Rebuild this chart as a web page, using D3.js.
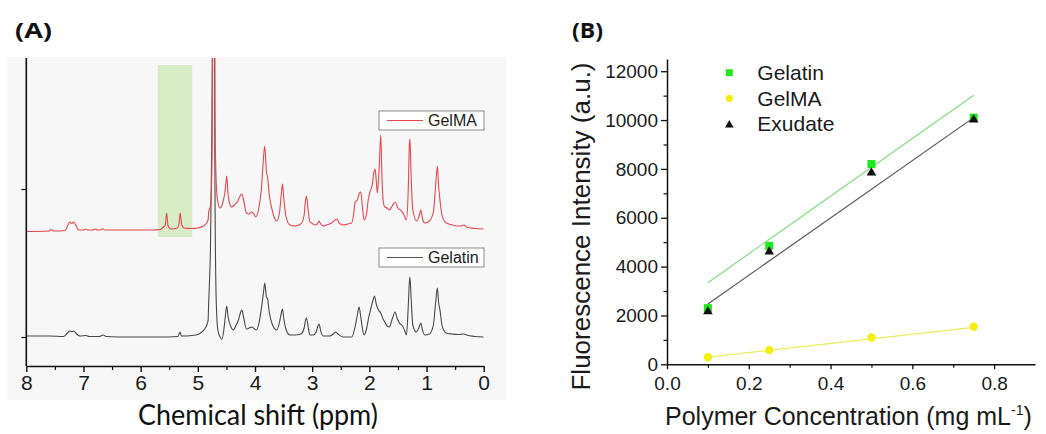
<!DOCTYPE html>
<html>
<head>
<meta charset="utf-8">
<script src="https://cdn.jsdelivr.net/npm/d3@7"></script>
<style>
    html, body { margin: 0; padding: 0; background: #fff; }
    svg { display: block; }
    .axis path, .axis line { stroke: #111; }
    .axis text { fill: #1a1a1a; font-family: Arial, "Liberation Sans", sans-serif; }
</style>
</head>
<body>
<svg id="chart" width="1046" height="434"></svg>
<script>
    // ---- panel A : 1H NMR spectra ----
    var ppmTicks = [8, 7, 6, 5, 4, 3, 2, 1, 0];
    var ppmMinorTicks = [7.5, 6.5, 5.5, 4.5, 3.5, 2.5, 1.5, 0.5];
    var highlightBand = [5.7, 5.1];
    var spectrumTicks = [0, 148];
    var gelmaOffset = 107;
    var spectrumNames = ['GelMA', 'Gelatin'];

    // [ppm, intensity above own baseline]
    var gelmaSpectrum = [
        [8.0, -1.5], [7.6, -1], [7.56, 0.5], [7.52, -1], [7.32, -0.5], [7.27, 5], [7.24, 8], [7.21, 6.5],
        [7.17, 8], [7.13, 4], [7.08, 0], [7.0, 0], [6.96, 1], [6.92, 0], [6.84, 0], [6.8, 1], [6.75, 0],
        [6.7, 0], [6.67, 1.2], [6.62, 0], [6.2, 0], [5.8, 0], [5.65, 0.5], [5.6, 3], [5.57, 5], [5.545, 17],
        [5.52, 4], [5.47, 1], [5.36, 2], [5.33, 6], [5.31, 17], [5.28, 5], [5.24, 2], [5.1, 1.5], [5.0, 2],
        [4.92, 3.5], [4.86, 6], [4.82, 10], [4.81, 18], [4.8, 20], [4.78, 24], [4.76, 45], [4.745, 120],
        [4.73, 400], [4.715, 400], [4.7, 120], [4.68, 50], [4.65, 28], [4.61, 22], [4.56, 28], [4.52, 40],
        [4.495, 54], [4.47, 35], [4.44, 26], [4.41, 23], [4.36, 25], [4.3, 29], [4.26, 34], [4.23, 36],
        [4.2, 30], [4.15, 17], [4.1, 16], [4.06, 18], [4.02, 16], [3.99, 13], [3.94, 20], [3.89, 40],
        [3.86, 65], [3.83, 84], [3.8, 58], [3.78, 53], [3.75, 35], [3.7, 20], [3.66, 12], [3.62, 9],
        [3.57, 18], [3.54, 36], [3.52, 46], [3.5, 34], [3.46, 14], [3.39, 5], [3.3, 4], [3.2, 6],
        [3.14, 15], [3.12, 28], [3.1, 34], [3.07, 20], [3.04, 8], [3.01, 7], [2.95, 5], [2.91, 6],
        [2.88, 9], [2.85, 6], [2.81, 4], [2.75, 5], [2.7, 6], [2.66, 7], [2.62, 9], [2.57, 11], [2.53, 7],
        [2.46, 5], [2.38, 6], [2.31, 7], [2.27, 18], [2.25, 28], [2.21, 30], [2.18, 36], [2.15, 38],
        [2.12, 22], [2.09, 10], [2.05, 16], [2.02, 30], [1.99, 38], [1.95, 45], [1.92, 58], [1.9, 61],
        [1.88, 50], [1.86, 37], [1.83, 60], [1.8, 95], [1.78, 55], [1.76, 30], [1.73, 23], [1.69, 22],
        [1.65, 20], [1.6, 24], [1.55, 28], [1.5, 22], [1.46, 20], [1.41, 17], [1.35, 10], [1.32, 40],
        [1.3, 85], [1.29, 91], [1.27, 55], [1.24, 20], [1.17, 9], [1.13, 14], [1.1, 20], [1.07, 11],
        [1.03, 7], [0.95, 9], [0.88, 18], [0.84, 45], [0.81, 64], [0.79, 45], [0.765, 30], [0.73, 15],
        [0.68, 8], [0.65, 7], [0.55, 5], [0.47, 4], [0.4, 4], [0.345, 5], [0.3, 3], [0.15, 1.5], [0.0, 1]
    ];
    var gelatinSpectrum = [
        [8.0, 1], [7.6, 1], [7.35, 0.5], [7.28, 4], [7.24, 6], [7.2, 5.5], [7.17, 6], [7.12, 3], [7.06, 1],
        [6.96, 1.5], [6.9, 0.5], [6.72, 0.5], [6.66, 2], [6.6, 0.5], [6.2, 0], [5.7, 0], [5.35, 0.5],
        [5.31, 5], [5.29, 1], [5.1, 1.5], [5.0, 2.5], [4.93, 5], [4.88, 8], [4.85, 11], [4.82, 17],
        [4.81, 35], [4.8, 49], [4.78, 87], [4.755, 200], [4.735, 400], [4.715, 400], [4.7, 150],
        [4.68, 40], [4.65, 7], [4.61, 0], [4.58, -2.5], [4.55, 5], [4.52, 20], [4.495, 31], [4.47, 20],
        [4.42, 10], [4.38, 7], [4.33, 12], [4.29, 17], [4.25, 25], [4.23, 27], [4.2, 20], [4.15, 8],
        [4.1, 9], [4.05, 10], [4.01, 8], [3.98, 7], [3.93, 14], [3.88, 32], [3.85, 45], [3.83, 54],
        [3.8, 40], [3.78, 38], [3.75, 25], [3.7, 13], [3.62, 7], [3.57, 15], [3.54, 24], [3.52, 28],
        [3.5, 20], [3.46, 8], [3.39, 2], [3.3, 2], [3.2, 3], [3.14, 9], [3.12, 16], [3.1, 19], [3.07, 10],
        [3.04, 2], [2.98, 2], [2.93, 5], [2.9, 11], [2.88, 13], [2.85, 6], [2.81, 1], [2.69, 1], [2.63, 3],
        [2.59, 5], [2.55, 3], [2.46, 0], [2.31, 0], [2.25, 10], [2.21, 22], [2.18, 30], [2.15, 20],
        [2.12, 8], [2.09, 2], [2.05, 8], [2.01, 20], [1.98, 27], [1.94, 36], [1.91, 41], [1.88, 33],
        [1.84, 27], [1.8, 24], [1.76, 18], [1.73, 15], [1.69, 11], [1.65, 10], [1.6, 18], [1.55, 25],
        [1.51, 18], [1.46, 13], [1.43, 12], [1.38, 6], [1.35, 2], [1.32, 30], [1.3, 55], [1.29, 60],
        [1.27, 40], [1.24, 12], [1.18, 5], [1.13, 10], [1.1, 14], [1.07, 7], [1.03, 2], [0.95, 3],
        [0.88, 12], [0.84, 35], [0.81, 49], [0.79, 35], [0.765, 27], [0.73, 12], [0.69, 6], [0.66, 4],
        [0.55, 3], [0.45, 2.5], [0.345, 3], [0.3, 2], [0.15, 0.5], [0.0, 0]
    ];

    // ---- panel B : fluorescence calibration ----
    var concentrations = [0.1, 0.25, 0.5, 0.75];
    var gelatinIntensity = [2300, 4850, 8200, 10100];
    var gelmaIntensity = [290, 580, 1100, 1540];
    var exudateIntensity = [2200, 4650, 7880, 10050];
    var fitRange = [0.1, 0.75];
    var gelatinFit = [3340, 11020];
    var gelmaFit = [290, 1510];
    var exudateFit = [2470, 10100];
    var intensityTicks = [0, 2000, 4000, 6000, 8000, 10000, 12000];
    var intensityMinorTicks = [1000, 3000, 5000, 7000, 9000, 11000];
    var concTicks = [0, 0.2, 0.4, 0.6, 0.8];
    var concMinorTicks = [0.1, 0.3, 0.5, 0.7];
    var seriesNames = ['Gelatin', 'GelMA', 'Exudate'];

    var svg = d3.select('#chart');
    var fontSans = 'Arial, "Liberation Sans", sans-serif';

    // ================= panel A =================
    var xA = d3.scaleLinear().domain([8, 0]).range([26.3, 483.7]);
    var yA = d3.scaleLinear().domain(spectrumTicks).range([337, 189]);
    var topA = 58, bottomA = 366;

    svg.append('rect')
        .attr('x', 7).attr('y', 57).attr('width', 499).attr('height', 343)
        .attr('fill', '#f7f7f7');

    svg.append('rect')
        .attr('x', xA(highlightBand[0]))
        .attr('y', 65)
        .attr('width', xA(highlightBand[1]) - xA(highlightBand[0]))
        .attr('height', 172)
        .attr('fill', '#d8ecc8');

    svg.append('clipPath').attr('id', 'clipA')
        .append('rect')
        .attr('x', xA(8)).attr('y', topA)
        .attr('width', xA(0) - xA(8)).attr('height', bottomA - topA);

    var spectra = svg.append('g').attr('clip-path', 'url(#clipA)');

    var lineGelma = d3.line()
        .x(function (d) { return xA(d[0]); })
        .y(function (d) { return yA(d[1] + gelmaOffset); })
        .curve(d3.curveMonotoneX);
    var lineGelatin = d3.line()
        .x(function (d) { return xA(d[0]); })
        .y(function (d) { return yA(d[1]); })
        .curve(d3.curveMonotoneX);

    spectra.append('path')
        .datum(gelatinSpectrum)
        .attr('d', lineGelatin)
        .attr('fill', 'none')
        .attr('stroke', '#484848')
        .attr('stroke-width', 1.1);

    spectra.append('path')
        .datum(gelmaSpectrum)
        .attr('d', lineGelma)
        .attr('fill', 'none')
        .attr('stroke', '#e6464c')
        .attr('stroke-width', 1.1);

    var axisA = svg.append('g').attr('class', 'axis');
    axisA.append('g')
        .attr('transform', 'translate(0,' + bottomA + ')')
        .call(d3.axisBottom(xA).tickValues(ppmTicks).tickSize(6).tickSizeOuter(0).tickPadding(3)
            .tickFormat(d3.format('d')))
        .call(function (g) {
            g.select('.domain').attr('stroke-width', 1.6);
            g.selectAll('.tick line').attr('stroke-width', 1.4);
            g.selectAll('text').style('font-size', '21px');
        });
    axisA.append('g')
        .attr('transform', 'translate(0,' + bottomA + ')')
        .call(d3.axisBottom(xA).tickValues(ppmMinorTicks).tickSize(4).tickSizeOuter(0).tickFormat(''))
        .call(function (g) {
            g.select('.domain').remove();
            g.selectAll('.tick line').attr('stroke-width', 1.2);
        });
    axisA.append('g')
        .attr('transform', 'translate(' + xA(8) + ',0)')
        .call(d3.axisLeft(yA).tickValues(spectrumTicks).tickSize(5).tickFormat(''))
        .call(function (g) {
            g.select('.domain').remove();
            g.selectAll('.tick line').attr('stroke-width', 1.2);
        });
    axisA.append('line')
        .attr('x1', xA(8)).attr('x2', xA(8))
        .attr('y1', topA).attr('y2', bottomA)
        .attr('stroke', '#111').attr('stroke-width', 1.6);

    // legend boxes
    var legendA = svg.append('g').attr('class', 'legendA');
    var legendAItem = legendA.selectAll('.item')
        .data(spectrumNames)
        .enter().append('g')
        .attr('class', 'item')
        .attr('transform', function (d, i) {
            return 'translate(379,' + (i === 0 ? 111 : 248) + ')';
        });
    legendAItem.append('rect')
        .attr('width', 105).attr('height', 19)
        .attr('fill', '#fff')
        .attr('stroke', '#8a8a8a').attr('stroke-width', 1);
    legendAItem.append('line')
        .attr('x1', 8).attr('x2', 44).attr('y1', 9.5).attr('y2', 9.5)
        .attr('stroke', function (d, i) { return i === 0 ? '#e6464c' : '#555'; })
        .attr('stroke-width', 1);
    legendAItem.append('text')
        .attr('x', 49).attr('y', 9.5)
        .attr('dy', '0.36em')
        .style('font-family', fontSans)
        .style('font-size', '16px')
        .attr('fill', '#1a1a1a')
        .text(function (d) { return d; });

    svg.append('text')
        .attr('x', 258).attr('y', 425)
        .attr('text-anchor', 'middle')
        .attr('textLength', 240)
        .attr('lengthAdjust', 'spacingAndGlyphs')
        .style('font-family', 'Lato, "Open Sans", sans-serif')
        .style('font-size', '28px')
        .attr('fill', '#111')
        .text('Chemical shift (ppm)');

    svg.append('text')
        .attr('x', 15).attr('y', 38)
        .attr('textLength', 37)
        .attr('lengthAdjust', 'spacingAndGlyphs')
        .style('font-family', '"Open Sans", Lato, sans-serif')
        .style('font-weight', 'bold')
        .style('font-size', '22px')
        .attr('fill', '#111')
        .text('(A)');

    // ================= panel B =================
    var xB = d3.scaleLinear().domain([0, 0.9]).range([667, 1035]);
    var yB = d3.scaleLinear().domain([0, 12500]).range([364.3, 59]);

    var axisB = svg.append('g').attr('class', 'axis');
    axisB.append('g')
        .attr('transform', 'translate(0,' + yB(0) + ')')
        .call(d3.axisBottom(xB).tickValues(concTicks).tickSize(5).tickSizeOuter(0).tickPadding(7)
            .tickFormat(d3.format('.1f')))
        .call(function (g) {
            g.select('.domain').attr('stroke-width', 1.5);
            g.selectAll('.tick line').attr('stroke-width', 1.3);
            g.selectAll('text').style('font-size', '19px');
        });
    axisB.append('g')
        .attr('transform', 'translate(0,' + yB(0) + ')')
        .call(d3.axisBottom(xB).tickValues(concMinorTicks).tickSize(3.5).tickFormat(''))
        .call(function (g) {
            g.select('.domain').remove();
            g.selectAll('.tick line').attr('stroke-width', 1.2);
        });
    axisB.append('g')
        .attr('transform', 'translate(' + xB(0) + ',0)')
        .call(d3.axisLeft(yB).tickValues(intensityTicks).tickSize(6).tickSizeOuter(0).tickPadding(3)
            .tickFormat(d3.format('d')))
        .call(function (g) {
            g.select('.domain').attr('stroke-width', 1.5);
            g.selectAll('.tick line').attr('stroke-width', 1.3);
            g.selectAll('text').style('font-size', '19px');
        });
    axisB.append('g')
        .attr('transform', 'translate(' + xB(0) + ',0)')
        .call(d3.axisLeft(yB).tickValues(intensityMinorTicks).tickSize(3.5).tickFormat(''))
        .call(function (g) {
            g.select('.domain').remove();
            g.selectAll('.tick line').attr('stroke-width', 1.2);
        });

    // fit lines
    var fits = [
        { values: gelatinFit, color: '#7fe07f' },
        { values: exudateFit, color: '#555555' },
        { values: gelmaFit, color: '#eeea5c' }
    ];
    svg.append('g').selectAll('line')
        .data(fits)
        .enter().append('line')
        .attr('x1', xB(fitRange[0]))
        .attr('x2', xB(fitRange[1]))
        .attr('y1', function (d) { return yB(d.values[0]); })
        .attr('y2', function (d) { return yB(d.values[1]); })
        .attr('stroke', function (d) { return d.color; })
        .attr('stroke-width', 1.2);

    var tri = d3.symbol().type(d3.symbolTriangle).size(40);

    var marks = svg.append('g');
    marks.selectAll('.sq')
        .data(concentrations)
        .enter().append('rect')
        .attr('class', 'sq')
        .attr('x', function (d) { return xB(d) - 4; })
        .attr('y', function (d, i) { return yB(gelatinIntensity[i]) - 4; })
        .attr('width', 8).attr('height', 8)
        .attr('fill', '#1ee81e');
    marks.selectAll('.ci')
        .data(concentrations)
        .enter().append('circle')
        .attr('class', 'ci')
        .attr('cx', function (d) { return xB(d); })
        .attr('cy', function (d, i) { return yB(gelmaIntensity[i]); })
        .attr('r', 4.2)
        .attr('fill', '#f4ee12');
    marks.selectAll('.tr')
        .data(concentrations)
        .enter().append('path')
        .attr('class', 'tr')
        .attr('d', tri)
        .attr('transform', function (d, i) {
            return 'translate(' + xB(d) + ',' + (yB(exudateIntensity[i]) + 1) + ')';
        })
        .attr('fill', '#111');

    // legend B
    var legendB = svg.append('g').attr('transform', 'translate(729.3,0)');
    var legendBItem = legendB.selectAll('.item')
        .data(seriesNames)
        .enter().append('g')
        .attr('class', 'item')
        .attr('transform', function (d, i) {
            return 'translate(0,' + (72.7 + i * 25.6) + ')';
        });
    legendBItem.each(function (d, i) {
        var g = d3.select(this);
        if (i === 0) {
            g.append('rect').attr('x', -3.5).attr('y', -3.5).attr('width', 7).attr('height', 7)
                .attr('fill', '#1ee81e');
        } else if (i === 1) {
            g.append('circle').attr('r', 3.6).attr('fill', '#f4ee12');
        } else {
            g.append('path').attr('d', d3.symbol().type(d3.symbolTriangle).size(32))
                .attr('transform', 'translate(0,1)').attr('fill', '#111');
        }
    });
    legendBItem.append('text')
        .attr('x', 28)
        .attr('dy', '0.36em')
        .style('font-family', fontSans)
        .style('font-size', '21px')
        .attr('fill', '#1a1a1a')
        .text(function (d) { return d; });

    // axis titles
    var xTitleB = svg.append('text')
        .attr('x', 665).attr('y', 425)
        .style('font-family', fontSans)
        .style('font-size', '25px')
        .attr('fill', '#1a1a1a');
    xTitleB.append('tspan').text('Polymer Concentration (mg mL');
    xTitleB.append('tspan').attr('dy', -10).style('font-size', '14px').text('-1');
    xTitleB.append('tspan').attr('dy', 10).text(')');

    svg.append('text')
        .attr('transform', 'translate(590,226.5) rotate(-90)')
        .attr('text-anchor', 'middle')
        .style('font-family', fontSans)
        .style('font-size', '26px')
        .attr('fill', '#1a1a1a')
        .text('Fluorescence Intensity (a.u.)');

    svg.append('text')
        .attr('x', 572).attr('y', 38)
        .attr('textLength', 31)
        .attr('lengthAdjust', 'spacingAndGlyphs')
        .style('font-family', '"Open Sans", Lato, sans-serif')
        .style('font-weight', 'bold')
        .style('font-size', '22px')
        .attr('fill', '#111')
        .text('(B)');
</script>
</body>
</html>
